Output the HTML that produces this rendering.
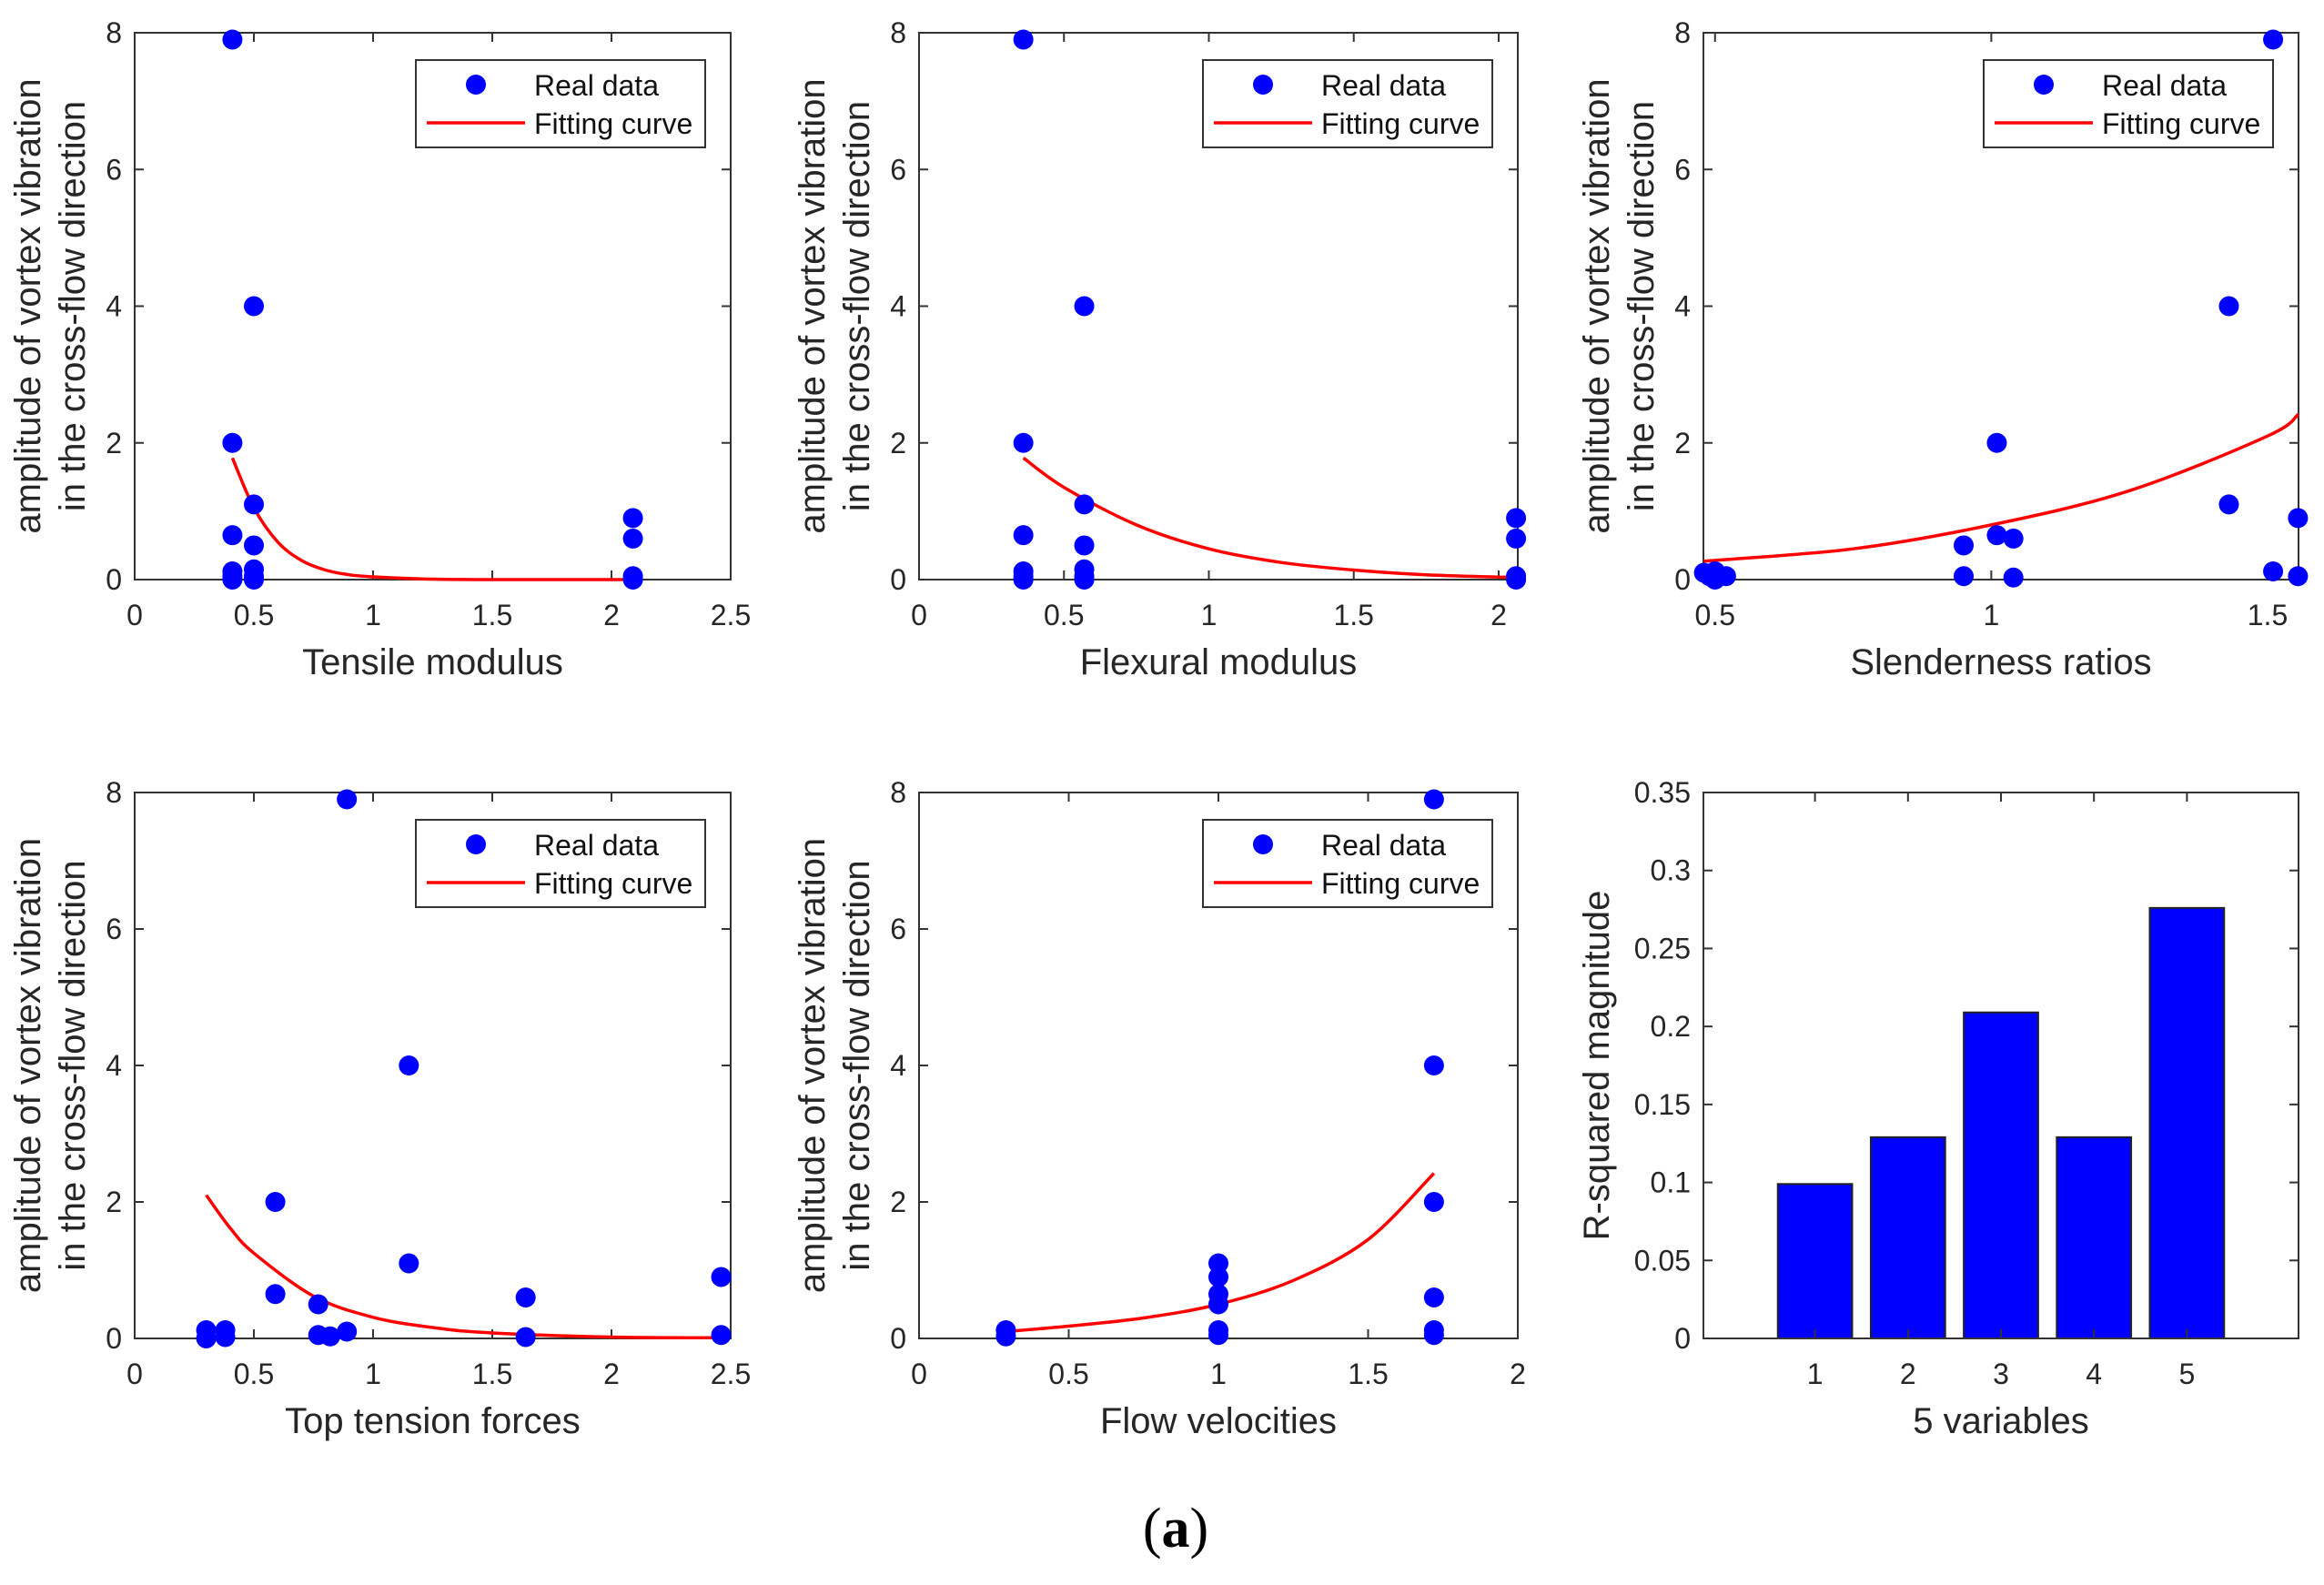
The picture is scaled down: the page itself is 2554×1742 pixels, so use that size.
<!DOCTYPE html>
<html><head><meta charset="utf-8"><style>
html,body{margin:0;padding:0;background:#fff}
svg{display:block;font-family:"Liberation Sans",Arial,sans-serif}
</style></head><body>
<svg id="fig" width="2554" height="1742" viewBox="0 0 2554 1742" xmlns="http://www.w3.org/2000/svg"></svg>
<script>
// ---- data ----
const p1X=[0.41,0.41,0.41,0.41,0.41,0.41,0.5,0.5,0.5,0.5,0.5,0.5,2.09,2.09,2.09,2.09];
const p1Y=[7.9,2.0,0.65,0.12,0.05,0,4.0,1.1,0.5,0.15,0.05,0,0.9,0.6,0.05,0];
const p1CX=[0.41,0.5,0.6,0.7,0.8,0.9,1.0,1.2,1.5,2.09];
const p1CY=[1.78,1.05,0.55,0.28,0.14,0.07,0.04,0.01,0.0,0.0];

const p2X=[0.36,0.36,0.36,0.36,0.36,0.36,0.57,0.57,0.57,0.57,0.57,0.57,2.06,2.06,2.06,2.06];
const p2Y=[7.9,2.0,0.65,0.12,0.05,0,4.0,1.1,0.5,0.15,0.05,0,0.9,0.6,0.05,0];
const p2CX=[0.36,0.5,0.75,1.0,1.25,1.5,1.75,2.06];
const p2CY=[1.78,1.35,0.8,0.45,0.25,0.14,0.07,0.03];

const p3X=[0.48,0.49,0.5,0.5,0.52,0.95,0.95,1.01,1.01,1.04,1.04,1.43,1.43,1.51,1.51,1.555,1.555];
const p3Y=[0.1,0.05,0.0,0.12,0.05,0.5,0.05,2.0,0.65,0.6,0.03,4.0,1.1,7.9,0.12,0.9,0.05];
const p3CX=[0.48,0.75,1.0,1.25,1.5,1.556];
const p3CY=[0.27,0.45,0.8,1.3,2.1,2.42];

const p4X=[0.3,0.3,0.38,0.38,0.59,0.59,0.77,0.77,0.82,0.89,0.89,1.15,1.15,1.64,1.64,2.46,2.46];
const p4Y=[0.12,0.0,0.12,0.02,2.0,0.65,0.5,0.05,0.03,7.9,0.1,4.0,1.1,0.6,0.02,0.9,0.05];
const p4CX=[0.3,0.4,0.5,0.75,1.0,1.25,1.5,2.0,2.46];
const p4CY=[2.1,1.62,1.25,0.62,0.31,0.16,0.08,0.02,0.01];

const p5X=[0.29,0.29,1.0,1.0,1.0,1.0,1.0,1.0,1.72,1.72,1.72,1.72,1.72,1.72];
const p5Y=[0.12,0.03,1.1,0.9,0.65,0.5,0.12,0.05,7.9,4.0,2.0,0.6,0.12,0.05];
const p5CX=[0.29,0.5,0.75,1.0,1.25,1.5,1.72];
const p5CY=[0.1,0.18,0.3,0.5,0.85,1.45,2.42];

const barCats=[1,2,3,4,5];
const barVals=[0.099,0.129,0.209,0.129,0.276];
const barTicks=["0","0.05","0.1","0.15","0.2","0.25","0.3","0.35"];
const yTicks8=["0","2","4","6","8"];

const NS="http://www.w3.org/2000/svg";
const svg=document.getElementById('fig');
function mk(tag,attrs,parent,text){const e=document.createElementNS(NS,tag);for(const k in attrs)e.setAttribute(k,attrs[k]);if(text!==undefined)e.textContent=text;(parent||svg).appendChild(e);return e;}

const cols=[[148,803],[1010,1668],[1872,2526]];
const rows=[[36,637],[871,1471]];
const yLab1="amplitude of vortex vibration", yLab2="in the cross-flow direction";
const TF=32, LF=40, GF=32;

function smoothPath(pts){
  let d='M'+pts[0][0].toFixed(1)+','+pts[0][1].toFixed(1);
  for(let i=0;i<pts.length-1;i++){
    const p0=pts[i-1]||pts[i],p1=pts[i],p2=pts[i+1],p3=pts[i+2]||p2;
    const c1=[p1[0]+(p2[0]-p0[0])/6,p1[1]+(p2[1]-p0[1])/6];
    const c2=[p2[0]-(p3[0]-p1[0])/6,p2[1]-(p3[1]-p1[1])/6];
    d+='C'+c1[0].toFixed(1)+','+c1[1].toFixed(1)+' '+c2[0].toFixed(1)+','+c2[1].toFixed(1)+' '+p2[0].toFixed(1)+','+p2[1].toFixed(1);
  }
  return d;
}

function panel(name,L,R,T,B,xmin,xmax,xticks,xtickLbl,xlabel,X,Y,CX,CY){
  const g=mk('g',{});
  
  
  const sx=v=>L+(v-xmin)/(xmax-xmin)*(R-L);
  const sy=v=>B-(v/8)*(B-T);
  const fr=mk('rect',{x:L,y:T,width:R-L,height:B-T,fill:'none',stroke:'#333',"stroke-width":2},g);
  
  yTicks8.forEach((t,i)=>{const y=sy(+t);
    mk('line',{x1:L,y1:y,x2:L+10,y2:y,stroke:'#333','stroke-width':2},g);
    mk('line',{x1:R,y1:y,x2:R-10,y2:y,stroke:'#333','stroke-width':2},g);
    const tx=mk('text',{x:L-14,y:y+11,'font-size':TF,'text-anchor':'end',fill:'#262626'},g,t);
    
  });
  xticks.forEach((v,i)=>{const x=sx(v);
    mk('line',{x1:x,y1:B,x2:x,y2:B-10,stroke:'#333','stroke-width':2},g);
    mk('line',{x1:x,y1:T,x2:x,y2:T+10,stroke:'#333','stroke-width':2},g);
    const tx=mk('text',{x:x,y:B+50,'font-size':TF,'text-anchor':'middle',fill:'#262626'},g,xtickLbl[i]);
    
  });
  const xl=mk('text',{x:(L+R)/2,y:B+104,'font-size':LF,'text-anchor':'middle',fill:'#262626'},g,xlabel);
  
  const yl=mk('text',{transform:`translate(${L-104},${(T+B)/2}) rotate(-90)`,'font-size':LF,'text-anchor':'middle',fill:'#262626'},g);
  
  mk('tspan',{x:0,y:0},yl,yLab1);mk('tspan',{x:0,y:49},yl,yLab2);
  const pts=CX.map((v,i)=>[sx(v),sy(CY[i])]);
  const c=mk('path',{d:smoothPath(pts),fill:'none',stroke:'#ff0000','stroke-width':3.5},g);
  
  X.forEach((v,i)=>{const p=mk('circle',{cx:sx(v),cy:sy(Y[i]),r:11,fill:'#0000ff'},g);
    });
  const lg=mk('g',{},g);
  
  const lx=R-346,ly=T+30;
  mk('rect',{x:lx,y:ly,width:318,height:96,fill:'#fff',stroke:'#333','stroke-width':2},lg);
  mk('circle',{cx:lx+66,cy:ly+27,r:11,fill:'#0000ff'},lg);
  mk('line',{x1:lx+12,y1:ly+69,x2:lx+120,y2:ly+69,stroke:'#ff0000','stroke-width':3.5},lg);
  const t1=mk('text',{x:lx+130,y:ly+39,'font-size':GF,fill:'#111'},lg,'Real data');
  
  const t2=mk('text',{x:lx+130,y:ly+81,'font-size':GF,fill:'#111'},lg,'Fitting curve');
  
}

panel('panel-tensile-modulus',cols[0][0],cols[0][1],rows[0][0],rows[0][1],0,2.5,[0,0.5,1,1.5,2,2.5],["0","0.5","1","1.5","2","2.5"],'Tensile modulus',p1X,p1Y,p1CX,p1CY);
panel('panel-flexural-modulus',cols[1][0],cols[1][1],rows[0][0],rows[0][1],0,2.066,[0,0.5,1,1.5,2],["0","0.5","1","1.5","2"],'Flexural modulus',p2X,p2Y,p2CX,p2CY);
panel('panel-slenderness-ratios',cols[2][0],cols[2][1],rows[0][0],rows[0][1],0.479,1.556,[0.5,1,1.5],["0.5","1","1.5"],'Slenderness ratios',p3X,p3Y,p3CX,p3CY);
panel('panel-top-tension-forces',cols[0][0],cols[0][1],rows[1][0],rows[1][1],0,2.5,[0,0.5,1,1.5,2,2.5],["0","0.5","1","1.5","2","2.5"],'Top tension forces',p4X,p4Y,p4CX,p4CY);
panel('panel-flow-velocities',cols[1][0],cols[1][1],rows[1][0],rows[1][1],0,2,[0,0.5,1,1.5,2],["0","0.5","1","1.5","2"],'Flow velocities',p5X,p5Y,p5CX,p5CY);

(function(){
  const L=cols[2][0],R=cols[2][1],T=rows[1][0],B=rows[1][1];
  const g=mk('g',{});
  
  
  const xmin=-0.2,xmax=6.2,ymax=0.35;
  const sx=v=>L+(v-xmin)/(xmax-xmin)*(R-L);
  const sy=v=>B-(v/ymax)*(B-T);
  const bw=0.8*(R-L)/(xmax-xmin);
  barCats.forEach((c,i)=>{const b=mk('rect',{x:sx(c)-bw/2,y:sy(barVals[i]),width:bw,height:B-sy(barVals[i]),fill:'#0000ff',stroke:'#222','stroke-width':2},g);
    });
  mk('rect',{x:L,y:T,width:R-L,height:B-T,fill:'none',stroke:'#333','stroke-width':2},g);
  barTicks.forEach(t=>{const y=sy(+t);
    mk('line',{x1:L,y1:y,x2:L+10,y2:y,stroke:'#333','stroke-width':2},g);
    mk('line',{x1:R,y1:y,x2:R-10,y2:y,stroke:'#333','stroke-width':2},g);
    const tx=mk('text',{x:L-14,y:y+11,'font-size':TF,'text-anchor':'end',fill:'#262626'},g,t);
    });
  barCats.forEach(c=>{const x=sx(c);
    mk('line',{x1:x,y1:B,x2:x,y2:B-10,stroke:'#333','stroke-width':2},g);
    mk('line',{x1:x,y1:T,x2:x,y2:T+10,stroke:'#333','stroke-width':2},g);
    const tx=mk('text',{x:x,y:B+50,'font-size':TF,'text-anchor':'middle',fill:'#262626'},g,String(c));
    });
  const xl=mk('text',{x:(L+R)/2,y:B+104,'font-size':LF,'text-anchor':'middle',fill:'#262626'},g,'5 variables');
  
  const yl=mk('text',{transform:`translate(${L-104},${(T+B)/2}) rotate(-90)`,'font-size':LF,'text-anchor':'middle',fill:'#262626'},g,'R-squared magnitude');
  
})();

const cap=mk('text',{x:1292,y:1700,'font-size':62,'text-anchor':'middle',fill:'#000','font-family':'"Liberation Serif",serif'});


mk('tspan',{},cap,'(');mk('tspan',{'font-weight':'bold'},cap,'a');mk('tspan',{},cap,')');
</script>
</body></html>
